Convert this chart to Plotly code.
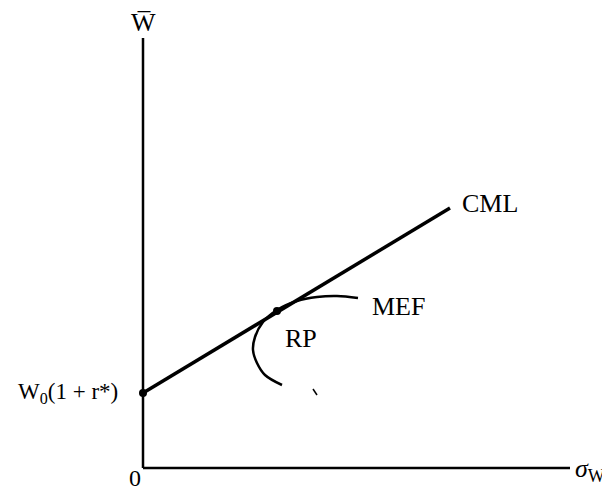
import plotly.graph_objects as go

# capital market line, from the riskless intercept out to its end
cml_x = [0, 307]
cml_y = [75, 260]

# tangency point (market portfolio)
rp_x = [134]
rp_y = [157]

mef_x = [139, 122, 114, 110, 112, 120, 134, 154, 174, 194, 215]
mef_y = [83, 93, 105, 118, 131, 146, 158, 167, 171, 172, 170]

# axes extents
yaxis_top = 430
xaxis_end = 427

serif = 'Liberation Serif'
black = '#000000'

fig = go.Figure()
fig.add_trace(go.Scatter(x=[0, 0], y=[0, yaxis_top], mode='lines',
                         line=dict(color=black, width=2.5)))
fig.add_trace(go.Scatter(x=[0, xaxis_end], y=[0, 0], mode='lines',
                         line=dict(color=black, width=2.5)))
fig.add_trace(go.Scatter(x=cml_x, y=cml_y, mode='lines',
                         line=dict(color=black, width=3.5)))
fig.add_trace(go.Scatter(x=mef_x, y=mef_y, mode='lines', line_shape='spline',
                         line=dict(color=black, width=2.5)))
fig.add_trace(go.Scatter(x=[cml_x[0]] + rp_x, y=[cml_y[0]] + rp_y, mode='markers',
                         marker=dict(color=black, size=8)))
# small speck from the scan
fig.add_trace(go.Scatter(x=[170, 174], y=[79, 73], mode='lines',
                         line=dict(color=black, width=1.5)))

labels = [
    (cml_x[1] + 10, 265, 'CML', 'left', 26),
    (rp_x[0] + 6, 130, 'RP', 'left', 26),
    (227, 162, 'MEF', 'left', 26),
    (-23, cml_y[0], 'W<sub>0</sub>(1 + r*)', 'right', 23),
    (-8, -10, '0', 'center', 24),
    (0, 446, 'W\u0305', 'center', 26),
]
for x, y, text, anchor, size in labels:
    fig.add_annotation(x=x, y=y, text=text, showarrow=False, xanchor=anchor,
                       yanchor='middle', font=dict(family=serif, size=size, color=black))
fig.add_annotation(x=xaxis_end + 3, y=-2, text='<i>\u03c3</i><sub>W</sub>', showarrow=False,
                   xanchor='left', yanchor='middle',
                   font=dict(family=serif, size=26, color=black))

# the page body adds an 8px offset, so the ranges are shifted to compensate
fig.update_layout(
    width=610, height=489,
    margin=dict(l=0, r=0, t=0, b=0),
    showlegend=False,
    plot_bgcolor='white', paper_bgcolor='white',
    xaxis=dict(range=[-135, 475], visible=False, fixedrange=True),
    yaxis=dict(range=[-29, 460], visible=False, fixedrange=True),
)
fig.write_html("out.html")
